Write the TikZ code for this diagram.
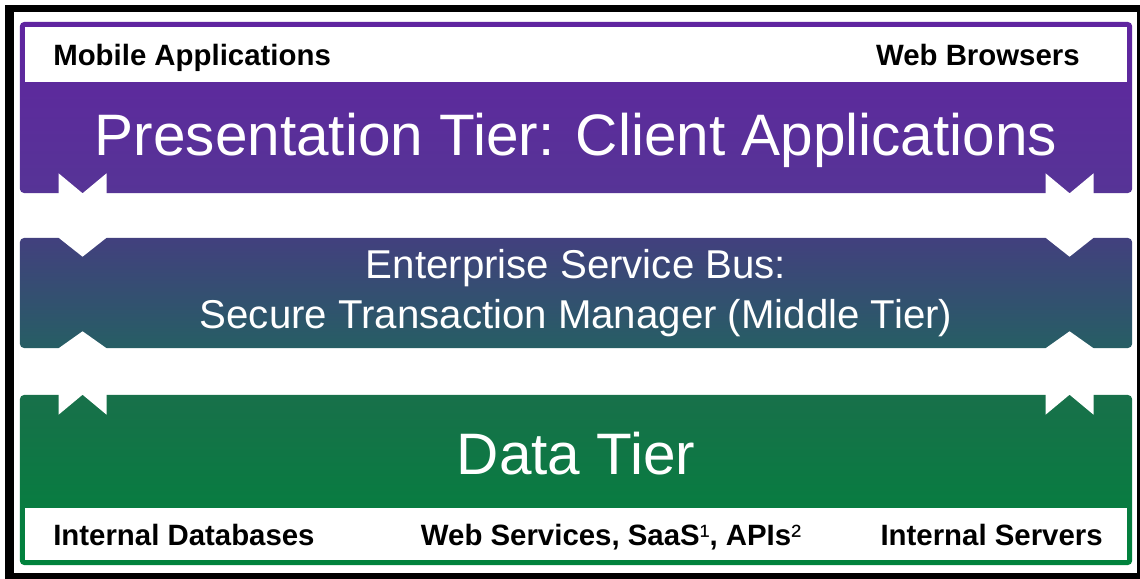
\documentclass[tikz,border=0pt]{standalone}
\usepackage{fontspec}
\setmainfont{Liberation Sans}
\usetikzlibrary{positioning,calc}
\definecolor{presTop}{RGB}{96,37,160}
\definecolor{presBot}{RGB}{86,52,150}
\definecolor{esbTop}{RGB}{66,64,126}
\definecolor{esbBot}{RGB}{38,94,100}
\definecolor{dataTop}{RGB}{24,112,74}
\definecolor{dataBot}{RGB}{0,130,60}
\tikzset{
	tierband/.style={rectangle, rounded corners=3pt, minimum width=27.8cm, inner sep=0pt},
	stripbox/.style={rectangle, fill=white, minimum width=27.55cm, inner sep=0pt},
	stripname/.style={font=\bfseries\fontsize{20.9}{25}\selectfont, inner sep=0pt},
	tiername/.style={text=white, font=\fontsize{41.6}{48}\selectfont, inner sep=0pt, anchor=base},
	busname/.style={text=white, font=\fontsize{28.6}{34}\selectfont, inner sep=0pt, anchor=base},
	linkarr/.style={fill=white}
}
\begin{document}
\begin{tikzpicture}[x=0.025cm, y=-0.025cm]
	\useasboundingbox (0,0) rectangle (1140,579);
	% outer frame
	\fill[black] (5,5) rectangle (1140,579);
	\fill[white] (14,12) rectangle (1137,573);
	% the three tiers
	\node[tierband, minimum height=4.275cm, top color=presTop, bottom color=presBot] (pres) at (576,107.5) {};
	\node[tierband, minimum height=2.75cm, top color=esbTop, bottom color=esbBot] (esb) at (576,293) {};
	\node[tierband, minimum height=4.25cm, top color=dataTop, bottom color=dataBot] (data) at (576,480) {};
	% white strips with the end points
	\node[stripbox, minimum height=1.375cm] (clients) at (576,54.5) {};
	\node[stripbox, minimum height=1.3cm] (sources) at (576,534) {};
	\node[stripname, anchor=base west] (mobile) at (53,65) {Mobile Applications};
	\node[stripname, anchor=base east] (browsers) at (1080,65) {Web Browsers};
	\node[stripname, anchor=base west] (intdb) at (53,545) {Internal Databases};
	\node[stripname, anchor=base] (websvc) at (611,545) {Web Services, SaaS{\mdseries ¹}, APIs{\mdseries ²}};
	\node[stripname, anchor=base east] (intsrv) at (1103,545) {Internal Servers};
	% tier titles
	\node[tiername] (prestitle) at (576,155) {Presentation Tier: Client Applications};
	\node[busname] (esbtitle) at (576,278) {Enterprise Service Bus:};
	\node[busname] (esbsub) at (576,328) {Secure Transaction Manager (Middle Tier)};
	\node[tiername] (datatitle) at (576,474) {Data Tier};
	% links between the tiers
	\foreach \xo in {63,1050} {
		\fill[linkarr] ($(pres.south west)+(\xo-24,-20)$) -- ($(pres.south west)+(\xo,0)$)
			-- ($(pres.south west)+(\xo+24,-20)$) -- ($(esb.north west)+(\xo+24,0)$)
			-- ($(esb.north west)+(\xo,19)$) -- ($(esb.north west)+(\xo-24,0)$) -- cycle;
		\fill[linkarr] ($(data.north west)+(\xo-24,20)$) -- ($(data.north west)+(\xo,0)$)
			-- ($(data.north west)+(\xo+24,20)$) -- ($(esb.south west)+(\xo+24,0)$)
			-- ($(esb.south west)+(\xo,-17)$) -- ($(esb.south west)+(\xo-24,0)$) -- cycle;
	}
\end{tikzpicture}
\end{document}
